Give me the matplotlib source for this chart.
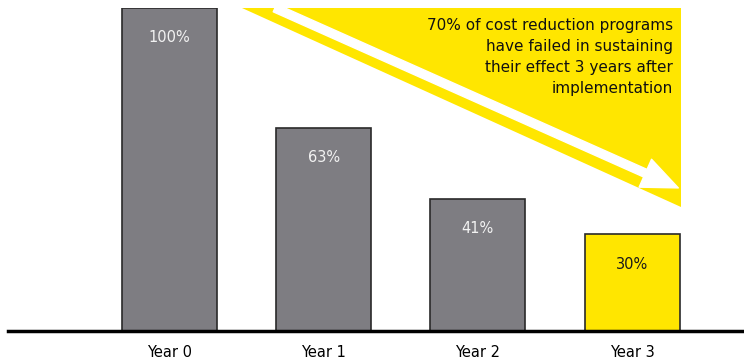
import matplotlib.pyplot as plt
from matplotlib.patches import Polygon, FancyArrowPatch

years = ['Year 0', 'Year 1', 'Year 2', 'Year 3']
retained = [100, 63, 41, 30]
labels = ['100%', '63%', '41%', '30%']

GREY = '#7e7d82'
YELLOW = '#ffe600'

fig = plt.figure(figsize=(7.44, 3.64), dpi=100)
ax = fig.add_axes([8 / 744, 33 / 364, 736 / 744, 323 / 364])

x = list(range(len(years)))
colors = [GREY, GREY, GREY, YELLOW]
bars = ax.bar(x, retained, width=0.616, color=colors, edgecolor='#2a2a2a', linewidth=1.2, zorder=3)

for b, lab, c in zip(bars, labels, colors):
    tc = '#f2f2f2' if c == GREY else '#1a1a1a'
    ax.annotate(lab, (b.get_x() + b.get_width() / 2, b.get_height()),
                xytext=(0, -30), textcoords='offset pixels',
                ha='center', va='center', color=tc, fontsize=10.5, zorder=4)

ax.set_xlim(-1.047, 3.726)
ax.set_ylim(0, 100)

# yellow wedge behind the trend arrow
wedge = Polygon([(0.47, 100), (3.32, 100), (3.32, 38.4)], closed=True,
                facecolor=YELLOW, edgecolor='none', zorder=1, clip_on=False)
ax.add_patch(wedge)

arrow = FancyArrowPatch((0.684, 100), (3.30, 44.3),
                        arrowstyle='simple,head_length=26,head_width=22,tail_width=6',
                        mutation_scale=1, color='white', zorder=2, clip_on=False,
                        shrinkA=0, shrinkB=0)
ax.add_patch(arrow)

ax.text(3.265, 96.8, '70% of cost reduction programs\nhave failed in sustaining\n'
        'their effect 3 years after\nimplementation',
        ha='right', va='top', fontsize=11, linespacing=1.5, color='#111111', zorder=4)

for s in ['top', 'left', 'right']:
    ax.spines[s].set_visible(False)
ax.spines['bottom'].set_linewidth(2.5)
ax.spines['bottom'].set_zorder(5)
ax.set_yticks([])
ax.set_xticks(x)
ax.set_xticklabels(years, fontsize=10.5)
ax.tick_params(axis='x', length=0, pad=10)

fig.savefig('out.png', dpi=100)
